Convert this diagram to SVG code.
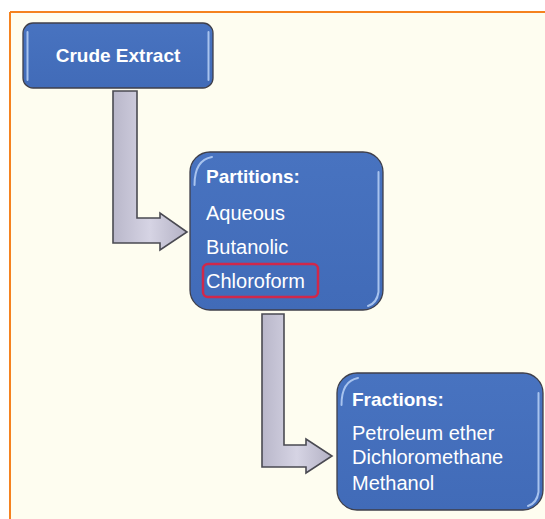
<svg xmlns="http://www.w3.org/2000/svg" width="545" height="519" viewBox="0 0 545 519">
  <defs>
    <linearGradient id="arrowGrad" x1="0" y1="0" x2="1" y2="0">
      <stop offset="0" stop-color="#B9B7CA"/>
      <stop offset="0.5" stop-color="#D6D4E4"/>
      <stop offset="1" stop-color="#B3B1C4"/>
    </linearGradient>
    <linearGradient id="boxGrad" x1="0" y1="0" x2="0" y2="1">
      <stop offset="0" stop-color="#4873C0"/>
      <stop offset="1" stop-color="#416BB8"/>
    </linearGradient>
    <style>
      .box { fill: url(#boxGrad); stroke: #3F3F4A; stroke-width: 1.3; }
      .hl { fill: none; stroke: #A8C3EE; stroke-width: 2; stroke-linecap: round; }
      .arrow { fill: url(#arrowGrad); stroke: #4A4A52; stroke-width: 1.6; stroke-linejoin: miter; }
      .t { font-family: "Liberation Sans", Arial, sans-serif; fill: #FFFFFF; font-size: 20px; }
      .b { font-weight: bold; font-size: 19px; }
    </style>
  </defs>

  <rect x="0" y="0" width="545" height="519" fill="#FFFFFF"/>
  <rect x="10" y="12" width="545" height="520" fill="#FEFDF0"/>
  <line x1="10" y1="12" x2="545" y2="12" stroke="#F5821F" stroke-width="2"/>
  <line x1="10" y1="12" x2="10" y2="519" stroke="#F5821F" stroke-width="2"/>

  <g id="connectors">
    <path class="arrow" d="M113,91 L137,91 L137,218 L160,218 L160,213 L187,232 L160,250 L160,243 L113,243 Z"/>
    <path class="arrow" d="M262,314 L284,314 L284,445 L306,445 L306,439 L332,456 L306,473 L306,467 L262,467 Z"/>
  </g>

  <g id="crude-extract">
    <rect class="box" x="23" y="23" width="190" height="65" rx="10"/>
    <path class="hl" d="M27.5,32 L27.5,80 M208.5,32 L208.5,80"/>
    <text class="t b" x="118" y="62" text-anchor="middle" font-size="18.5">Crude Extract</text>
  </g>

  <g id="partitions">
    <rect class="box" x="190" y="152" width="193" height="158" rx="20"/>
    <path class="hl" d="M194.5,185 Q194.5,160 212,157 M378.5,172 L378.5,292 Q377,303 368,306"/>
    <text class="t b" x="206" y="183">Partitions:</text>
    <text class="t" x="206" y="220">Aqueous</text>
    <text class="t" x="206" y="254">Butanolic</text>
    <text class="t" x="206" y="288">Chloroform</text>
    <rect x="203" y="264" width="115" height="33" rx="5" fill="none" stroke="#D0284A" stroke-width="2.5"/>
  </g>

  <g id="fractions">
    <rect class="box" x="337" y="373" width="206" height="137" rx="20"/>
    <path class="hl" d="M341.5,405 Q341.5,381 358,378 M538.5,393 L538.5,492 Q537,503 528,506"/>
    <text class="t b" x="352" y="406">Fractions:</text>
    <text class="t" x="352" y="440">Petroleum ether</text>
    <text class="t" x="352" y="464">Dichloromethane</text>
    <text class="t" x="352" y="490">Methanol</text>
  </g>
</svg>
